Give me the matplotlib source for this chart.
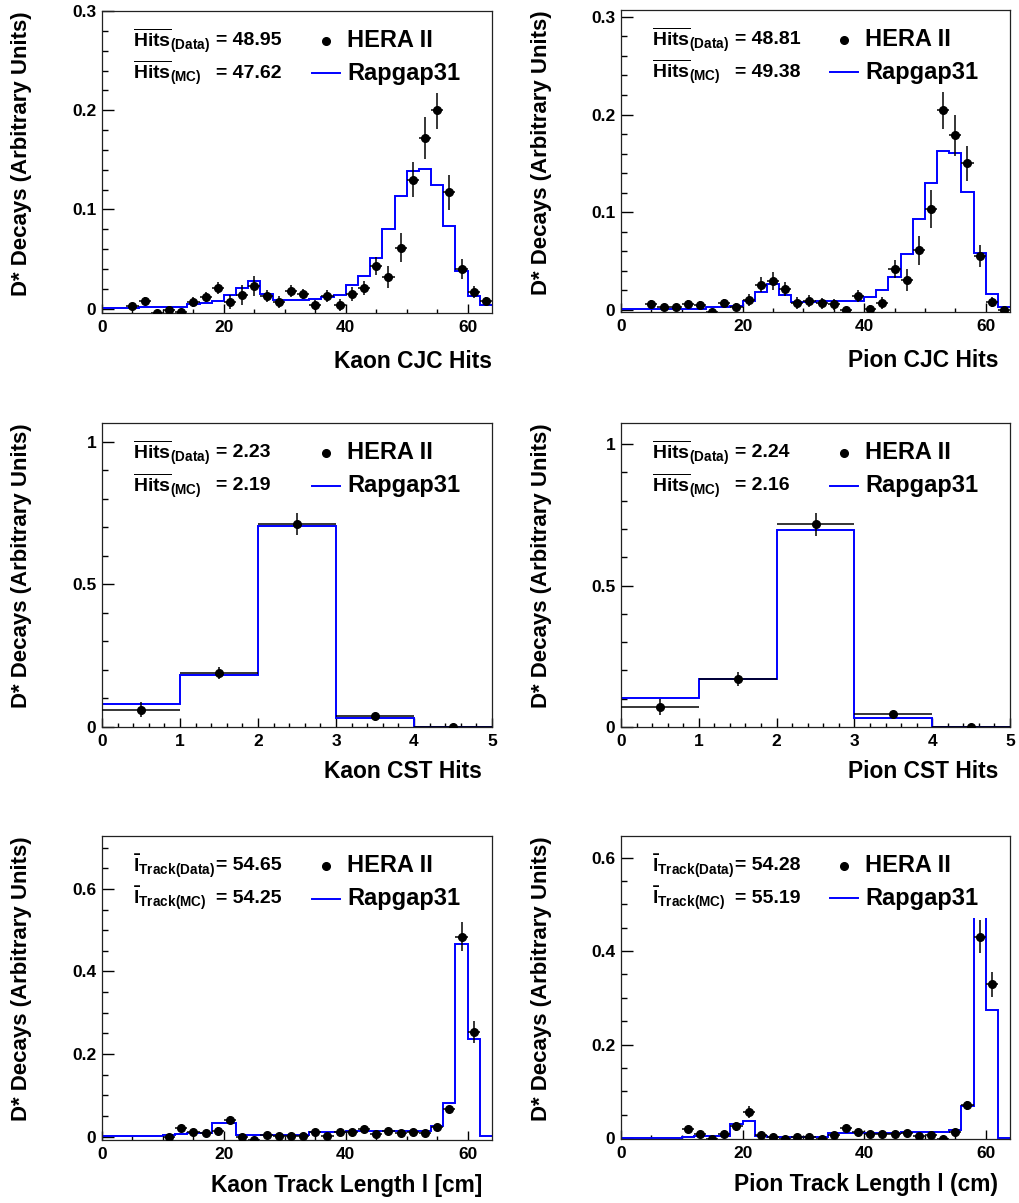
import numpy as np
import matplotlib
matplotlib.use('Agg')
import matplotlib.pyplot as plt
from matplotlib.ticker import MultipleLocator, FormatStrFormatter
from matplotlib.patches import Rectangle

plt.rcParams['font.family'] = 'Liberation Sans'
plt.rcParams['font.weight'] = 'bold'
plt.rcParams['mathtext.fontset'] = 'custom'
plt.rcParams['mathtext.rm'] = 'Liberation Sans:bold'
plt.rcParams['mathtext.bf'] = 'Liberation Sans:bold'

# ---- CJC hits (bins of 2) ----
cjc_edges = np.arange(0, 66, 2)
cjc_x = np.arange(5, 64, 2)
kaon_cjc_data = [0.0023, 0.0074, -0.0043, -0.0017, -0.0033, 0.007, 0.0114, 0.0204, 0.007, 0.0134,
                 0.023, 0.013, 0.0067, 0.018, 0.015, 0.0033, 0.0124, 0.0037, 0.0147, 0.0207,
                 0.0428, 0.0318, 0.0615, 0.130, 0.172, 0.200, 0.117, 0.040, 0.0167, 0.0074]
kaon_cjc_err = [0.003, 0.004, 0.003, 0.003, 0.003, 0.005, 0.005, 0.006, 0.007, 0.010,
                0.010, 0.006, 0.006, 0.006, 0.005, 0.005, 0.006, 0.006, 0.007, 0.007,
                0.009, 0.011, 0.015, 0.018, 0.021, 0.019, 0.018, 0.010, 0.006, 0.004]
kaon_cjc_mc = [0.0005, 0.0005, 0.0008, 0.0012, 0.0015, 0.002, 0.002, 0.0045, 0.0055, 0.0075,
               0.0135, 0.0207, 0.0274, 0.015, 0.009, 0.009, 0.009, 0.0095, 0.0115, 0.014,
               0.0234, 0.0324, 0.051, 0.080, 0.113, 0.139, 0.141, 0.125, 0.083, 0.038,
               0.0124, 0.004]

pion_cjc_data = [0.0058, 0.0034, 0.0034, 0.0058, 0.005, -0.0017, 0.0075, 0.0034, 0.010, 0.026,
                 0.0295, 0.0214, 0.0075, 0.0095, 0.0068, 0.0058, 0.0, 0.0146, 0.0007, 0.0075,
                 0.0417, 0.0305, 0.061, 0.1034, 0.205, 0.1786, 0.150, 0.0553, 0.0085, 0.0]
pion_cjc_err = [0.004, 0.003, 0.003, 0.004, 0.004, 0.003, 0.004, 0.004, 0.006, 0.008,
                0.009, 0.007, 0.006, 0.006, 0.006, 0.006, 0.003, 0.006, 0.004, 0.006,
                0.009, 0.011, 0.015, 0.019, 0.020, 0.021, 0.018, 0.011, 0.005, 0.002]
pion_cjc_mc = [0.0008, 0.0008, 0.0008, 0.001, 0.001, 0.0015, 0.0015, 0.003, 0.0035, 0.0045,
               0.009, 0.018, 0.0265, 0.015, 0.008, 0.0085, 0.009, 0.009, 0.009, 0.0095,
               0.0135, 0.020, 0.034, 0.0573, 0.0929, 0.130, 0.163, 0.161, 0.121, 0.058,
               0.016, 0.0034]

# ---- CST hits ----
cst_edges = np.arange(0, 6, 1)
cst_x = np.arange(0.5, 5, 1)
kaon_cst_data = [0.061, 0.189, 0.710, 0.0386, 0.0]
kaon_cst_err = [0.027, 0.022, 0.039, 0.005, 0.0]
kaon_cst_mc = [0.0807, 0.181, 0.704, 0.0316, 0.0005]
pion_cst_data = [0.0708, 0.170, 0.717, 0.047, 0.0]
pion_cst_err = [0.028, 0.024, 0.040, 0.005, 0.0]
pion_cst_mc = [0.1027, 0.170, 0.698, 0.033, 0.001]

# ---- track length (bins of 2) ----
len_edges = np.arange(0, 66, 2)
len_x = np.arange(11, 62, 2)
kaon_len_data = [0.0, 0.020, 0.011, 0.008, 0.0145, 0.040, 0.0, -0.008, 0.004, 0.0016,
                 0.0016, 0.0016, 0.011, 0.0016, 0.0105, 0.0105, 0.0186, 0.0057, 0.013, 0.009,
                 0.011, 0.009, 0.024, 0.067, 0.484, 0.2535]
kaon_len_err = [0.004, 0.005, 0.005, 0.005, 0.009, 0.010, 0.003, 0.003, 0.003, 0.003,
                0.003, 0.003, 0.005, 0.003, 0.004, 0.004, 0.004, 0.004, 0.004, 0.004,
                0.004, 0.004, 0.005, 0.008, 0.035, 0.027]
kaon_len_mc = [0.002, 0.002, 0.002, 0.002, 0.002, 0.004, 0.006, 0.008, 0.008, 0.034,
               0.034, 0.003, 0.003, 0.003, 0.003, 0.003, 0.003, 0.011, 0.011, 0.012,
               0.013, 0.014, 0.014, 0.013, 0.013, 0.014, 0.014, 0.026, 0.081, 0.4675,
               0.237, 0.001]

pion_len_data = [0.019, 0.0093, -0.002, 0.0093, 0.025, 0.0556, 0.0064, 0.0014, -0.002, 0.0014,
                 0.0014, -0.002, 0.0057, 0.0207, 0.014, 0.0085, 0.0085, 0.0078, 0.0107, 0.0043,
                 0.007, -0.002, 0.014, 0.070, 0.431, 0.329]
pion_len_err = [0.005, 0.004, 0.003, 0.004, 0.009, 0.012, 0.003, 0.003, 0.003, 0.003,
                0.003, 0.003, 0.004, 0.005, 0.004, 0.004, 0.004, 0.004, 0.004, 0.004,
                0.004, 0.003, 0.005, 0.010, 0.035, 0.027]
pion_len_mc = [0.001, 0.001, 0.001, 0.001, 0.001, 0.002, 0.005, 0.005, 0.005, 0.030,
               0.037, 0.004, 0.003, 0.002, 0.002, 0.002, 0.002, 0.0107, 0.011, 0.011,
               0.0105, 0.0105, 0.011, 0.012, 0.012, 0.012, 0.013, 0.018, 0.068, 0.62,
               0.2736, 0.001]

hits_lbl = r'$\overline{\mathbf{Hits}}_{\mathbf{(%s)}}$'
len_lbl = r'$\bar{\mathbf{l}}_{\mathbf{Track(%s)}}$'

panels = [
    # edges, mc, x, data, err, xerr, ylim, xlim, ymaj, ymin, xmaj, xmin, xlabel, statlbl, means, xlabel pos
    (cjc_edges, kaon_cjc_mc, cjc_x, kaon_cjc_data, kaon_cjc_err, 1, (-0.0045, 0.3), (0, 64), 0.1, 0.02, 20, 5,
     'Kaon CJC Hits', hits_lbl, ('48.95', '47.62'), (1.0, -0.162)),
    (cjc_edges, pion_cjc_mc, cjc_x, pion_cjc_data, pion_cjc_err, 1, (-0.002, 0.307), (0, 64), 0.1, 0.02, 20, 5,
     'Pion CJC Hits', hits_lbl, ('48.81', '49.38'), (0.97, -0.162)),
    (cst_edges, kaon_cst_mc, cst_x, kaon_cst_data, kaon_cst_err, 0.5, (0, 1.065), (0, 5), 0.5, 0.1, 1, 0.2,
     'Kaon CST Hits', hits_lbl, ('2.23', '2.19'), (0.974, -0.148)),
    (cst_edges, pion_cst_mc, cst_x, pion_cst_data, pion_cst_err, 0.5, (0, 1.075), (0, 5), 0.5, 0.1, 1, 0.2,
     'Pion CST Hits', hits_lbl, ('2.24', '2.16'), (0.97, -0.148)),
    (len_edges, kaon_len_mc, len_x, kaon_len_data, kaon_len_err, 1, (-0.008, 0.728), (0, 64), 0.2, 0.05, 20, 5,
     'Kaon Track Length l [cm]', len_lbl, ('54.65', '54.25'), (0.974, -0.149)),
    (len_edges, pion_len_mc, len_x, pion_len_data, pion_len_err, 1, (-0.002, 0.646), (0, 64), 0.2, 0.05, 20, 5,
     'Pion Track Length l (cm)', len_lbl, ('54.28', '55.19'), (0.97, -0.149)),
]

W, H = 1019, 1203
fig = plt.figure(figsize=(W / 100, H / 100), dpi=100)
boxes = [(102, 11, 492, 313), (621, 10, 1010, 312),
         (102, 423, 492, 727), (621, 423, 1010, 727),
         (102, 836, 492, 1140), (621, 836, 1010, 1139)]

for (x0, y0, x1, y1), p in zip(boxes, panels):
    (edges, mc, x, y, yerr, xerr, ylim, xlim, ymaj, ymin, xmaj, xmin,
     xlabel, lbl, means, xl_pos) = p
    ax = fig.add_axes([x0 / W, 1 - y1 / H, (x1 - x0) / W, (y1 - y0) / H])
    ax.stairs(mc, edges, baseline=None, color='#0000ff', lw=1.4, zorder=2)
    ax.errorbar(x, y, yerr=yerr, xerr=xerr, fmt='o', color='black', ms=5.5,
                elinewidth=1.1, capsize=0, zorder=3)
    ax.set_xlim(*xlim)
    ax.set_ylim(*ylim)

    ax.yaxis.set_major_locator(MultipleLocator(ymaj))
    ax.yaxis.set_minor_locator(MultipleLocator(ymin))
    ax.xaxis.set_major_locator(MultipleLocator(xmaj))
    ax.xaxis.set_minor_locator(MultipleLocator(xmin))
    ax.yaxis.set_major_formatter(FormatStrFormatter('%g'))
    ax.xaxis.set_major_formatter(FormatStrFormatter('%g'))
    ax.tick_params(axis='both', which='both', direction='in', top=False, right=False,
                   labelsize=12.5, width=1)
    ax.tick_params(axis='y', which='major', length=8.6, pad=4)
    ax.tick_params(axis='y', which='minor', length=4.3)
    ax.tick_params(axis='x', which='major', length=6.5, pad=5)
    ax.tick_params(axis='x', which='minor', length=3)
    for lab in ax.get_xticklabels() + ax.get_yticklabels():
        lab.set_fontweight('bold')
    for s in ax.spines.values():
        s.set_linewidth(0.9)
        s.set_color('#222222')

    ax.set_xlabel(xlabel, fontsize=16.4, fontweight='bold', ha='right', va='center')
    ax.xaxis.set_label_coords(*xl_pos)
    ylab = ax.set_ylabel('D* Decays (Arbitrary Units)', fontsize=16, fontweight='bold', loc='top')
    ylab.set_va('center')
    ax.yaxis.set_label_coords(-80 / (x1 - x0), 1.0)

    # white legend box
    ax.add_patch(Rectangle((0.52, 0.73), 0.46, 0.26, transform=ax.transAxes,
                           facecolor='white', edgecolor='none', zorder=4))
    # statistics text
    ax.text(0.0795, 0.902, lbl % 'Data', transform=ax.transAxes, fontsize=14,
            ha='left', va='center', zorder=5)
    ax.text(0.0795, 0.794, lbl % 'MC', transform=ax.transAxes, fontsize=14,
            ha='left', va='center', zorder=5)
    ax.text(0.292, 0.902, '= ' + means[0], transform=ax.transAxes, fontsize=14,
            fontweight='bold', ha='left', va='center', zorder=5)
    ax.text(0.292, 0.794, '= ' + means[1], transform=ax.transAxes, fontsize=14,
            fontweight='bold', ha='left', va='center', zorder=5)
    # legend
    ax.plot([0.574], [0.902], 'o', color='black', ms=5.5, transform=ax.transAxes, zorder=5)
    ax.text(0.628, 0.902, 'HERA II', transform=ax.transAxes, fontsize=17,
            fontweight='bold', ha='left', va='center', zorder=5)
    ax.plot([0.538, 0.61], [0.794, 0.794], color='#0000ff', lw=1.4,
            transform=ax.transAxes, zorder=5)
    ax.text(0.628, 0.794, 'Rapgap31', transform=ax.transAxes, fontsize=17,
            fontweight='bold', ha='left', va='center', zorder=5)

fig.savefig('out.png', dpi=100)
